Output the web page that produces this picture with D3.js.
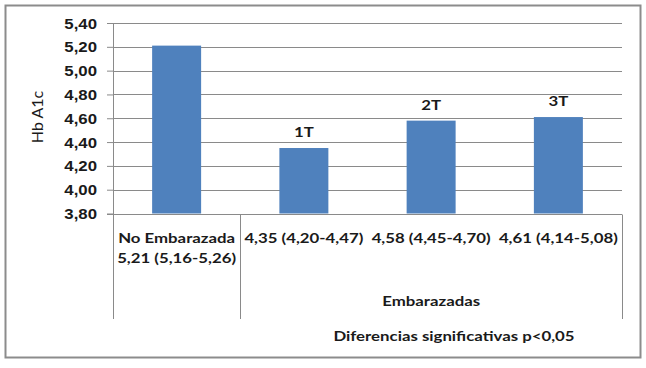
<!DOCTYPE html>
<html>
<head>
<meta charset="utf-8">
<script src="https://cdn.jsdelivr.net/npm/d3@7"></script>
<style>
    body { margin: 0; background: #fff; }
    svg { display: block; font-family: Lato, "Open Sans", sans-serif; }
</style>
</head>
<body>
<svg id="chart"></svg>
<script>
// chart data
const categories = ['No Embarazada', '1T', '2T', '3T'];
const values = [5.21, 4.35, 4.58, 4.61];
const barLabels = ['', '1T', '2T', '3T'];
const catLabels = [
    ['No Embarazada', '5,21 (5,16-5,26)'],
    ['4,35 (4,20-4,47)'],
    ['4,58 (4,45-4,70)'],
    ['4,61 (4,14-5,08)']
];
const yTicks = [3.8, 4.0, 4.2, 4.4, 4.6, 4.8, 5.0, 5.2, 5.4];
const groupLabel = 'Embarazadas';
const yTitle = 'Hb A1c';
const note = 'Diferencias significativas p<0,05';

const width = 646;
const height = 368;
const margin = { top: 23, right: 24, bottom: 155, left: 113 };
const lineColor = '#8a8a8a';
const textColor = '#1a1a1a';
const stretch = 1.2; // the reference text is wide, Lato is narrow

const svg = d3.select('#chart')
    .attr('width', width)
    .attr('height', height);

// draws a horizontally stretched text at (px, py)
function label(g, px, py, txt, size, weight, anchor) {
    return g.append('text')
        .attr('transform', `translate(${px},${py}) scale(${stretch},1)`)
        .attr('text-anchor', anchor || 'middle')
        .attr('font-size', size)
        .attr('font-weight', weight)
        .attr('fill', textColor)
        .text(txt);
}

// outer frame
svg.append('rect')
    .attr('x', 5.5)
    .attr('y', 5.5)
    .attr('width', 635)
    .attr('height', 352)
    .attr('fill', 'none')
    .attr('stroke', '#8c8c8c')
    .attr('stroke-width', 2);

const x = d3.scaleBand()
    .domain(categories)
    .range([margin.left, width - margin.right])
    .paddingInner(0.615)
    .paddingOuter(0.3075);

const y = d3.scaleLinear()
    .domain([3.8, 5.4])
    .range([height - margin.bottom + 0.5, margin.top]);

const locale = d3.formatLocale({ decimal: ',', thousands: '.', grouping: [3], currency: ['', '€'] });
const fmt = locale.format('.2f');

// y axis ticks + labels
const yAxis = svg.append('g')
    .attr('transform', `translate(${margin.left},0)`)
    .call(
        d3.axisLeft(y)
            .tickValues(yTicks)
            .tickSize(6)
            .tickPadding(12)
            .tickFormat('')
    );
yAxis.select('.domain').remove();
yAxis.selectAll('line').attr('stroke', lineColor);
yAxis.selectAll('.tick').each(function(d) {
    label(d3.select(this), -16, 5, fmt(d), 14, 'bold', 'end');
});

// gridlines
svg.append('g')
    .selectAll('line')
    .data(yTicks)
    .join('line')
    .attr('x1', margin.left)
    .attr('x2', width - margin.right)
    .attr('y1', d => Math.round(y(d)) + 0.5)
    .attr('y2', d => Math.round(y(d)) + 0.5)
    .attr('stroke', lineColor);

// y title
svg.append('text')
    .attr('transform', `translate(43, 117) rotate(-90)`)
    .attr('text-anchor', 'middle')
    .attr('font-size', 16)
    .attr('fill', textColor)
    .text(yTitle);

// bars
svg.append('g')
    .selectAll('rect')
    .data(values)
    .join('rect')
    .attr('x', (d, i) => x(categories[i]))
    .attr('y', d => y(d))
    .attr('width', x.bandwidth())
    .attr('height', d => y(3.8) - y(d))
    .attr('fill', '#4f81bd');

// labels above bars
const barLabelG = svg.append('g');
values.forEach((d, i) => {
    label(barLabelG, x(categories[i]) + x.bandwidth() / 2, y(d) - 11, barLabels[i], 14, 'bold');
});

// category axis lines
const axisY = Math.round(y(3.8)) + 0.5;
const bottomY = 319;
const step = x.step();
const boundaries = [margin.left, margin.left + step, width - margin.right];

svg.append('line')
    .attr('x1', margin.left - 6)
    .attr('x2', width - margin.right)
    .attr('y1', axisY)
    .attr('y2', axisY)
    .attr('stroke', lineColor);

svg.append('line')
    .attr('x1', margin.left + 0.5)
    .attr('x2', margin.left + 0.5)
    .attr('y1', margin.top)
    .attr('y2', axisY)
    .attr('stroke', lineColor);

svg.append('g')
    .selectAll('line')
    .data(boundaries)
    .join('line')
    .attr('x1', d => Math.round(d) + 0.5)
    .attr('x2', d => Math.round(d) + 0.5)
    .attr('y1', axisY)
    .attr('y2', bottomY)
    .attr('stroke', lineColor);

// category labels
const catG = svg.append('g');
catLabels.forEach((lines, i) => {
    lines.forEach((t, j) => {
        label(catG, x(categories[i]) + x.bandwidth() / 2, 243 + j * 20, t, 14, 'bold');
    });
});

// group label
label(svg, (boundaries[1] + boundaries[2]) / 2, 306, groupLabel, 14, 'bold');

// note
label(svg, 454, 341, note, 14, 'bold');
</script>
</body>
</html>
